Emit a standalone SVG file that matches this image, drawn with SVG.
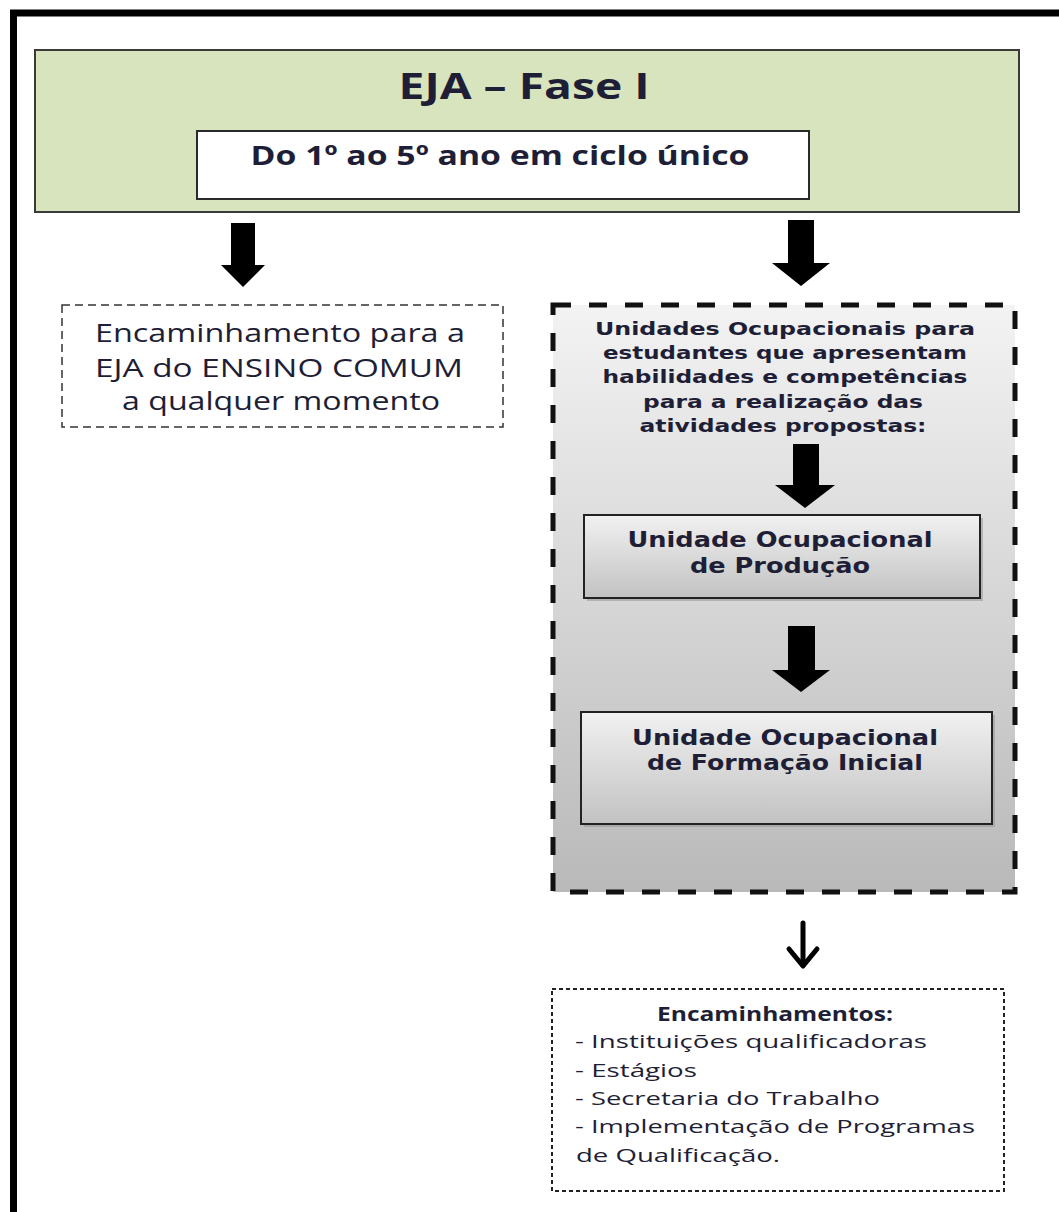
<svg xmlns="http://www.w3.org/2000/svg" width="1059" height="1212" viewBox="0 0 1059 1212">
<style>
.cal{font-family:"Open Sans","Liberation Sans",sans-serif;fill:#1e1e36}
.ver{font-family:"DejaVu Sans","Liberation Sans",sans-serif;font-weight:bold;fill:#1e1e36}
.arrow{fill:#000}
</style>
<defs>
<linearGradient id="gBig" x1="0" y1="0" x2="0" y2="1">
<stop offset="0" stop-color="#f3f3f3"/>
<stop offset="1" stop-color="#b9b9b9"/>
</linearGradient>
<linearGradient id="gBox" x1="0" y1="0" x2="0" y2="1">
<stop offset="0" stop-color="#f1f1f1"/>
<stop offset="1" stop-color="#c2c2c2"/>
</linearGradient>
</defs>
<rect width="1059" height="1212" fill="#fff"/>
<rect id="frame" x="13.5" y="13" width="1100" height="1300" fill="none" stroke="#000" stroke-width="7"/>

<g id="fase">
<rect x="35" y="50" width="984" height="162" fill="#d7e4bd" stroke="#3a3a3a" stroke-width="2"/>
<text class="cal" x="524" y="99" font-size="36" font-weight="bold" text-anchor="middle" textLength="251" lengthAdjust="spacingAndGlyphs">EJA – Fase I</text>
</g>
<g id="ciclo">
<rect x="197" y="131" width="612" height="68" fill="#fff" stroke="#2a2a2a" stroke-width="2"/>
<text class="cal" x="500" y="165" font-size="27" font-weight="bold" text-anchor="middle" textLength="499" lengthAdjust="spacingAndGlyphs">Do 1º ao 5º ano em ciclo único</text>
</g>

<g id="ensino-comum">
<rect x="62" y="305" width="441" height="122" fill="#fff" stroke="#333" stroke-width="1.5" stroke-dasharray="8 5"/>
<text class="cal" x="280" y="342" font-size="26" text-anchor="middle" textLength="370" lengthAdjust="spacingAndGlyphs">Encaminhamento para a</text>
<text class="cal" x="279" y="377" font-size="26" text-anchor="middle" textLength="368" lengthAdjust="spacingAndGlyphs">EJA do ENSINO COMUM</text>
<text class="cal" x="281" y="410" font-size="26" text-anchor="middle" textLength="318" lengthAdjust="spacingAndGlyphs">a qualquer momento</text>
</g>

<g id="unidades">
<rect x="553" y="305" width="462" height="587" fill="url(#gBig)" stroke="#111" stroke-width="5" stroke-dasharray="18 18"/>
<text class="ver" x="785" y="335" font-size="17" text-anchor="middle" textLength="380" lengthAdjust="spacingAndGlyphs">Unidades Ocupacionais para</text>
<text class="ver" x="785" y="359" font-size="17" text-anchor="middle" textLength="364" lengthAdjust="spacingAndGlyphs">estudantes que apresentam</text>
<text class="ver" x="785" y="383" font-size="17" text-anchor="middle" textLength="365" lengthAdjust="spacingAndGlyphs">habilidades e competências</text>
<text class="ver" x="783" y="408" font-size="17" text-anchor="middle" textLength="280" lengthAdjust="spacingAndGlyphs">para a realização das</text>
<text class="ver" x="783" y="432" font-size="17" text-anchor="middle" textLength="287" lengthAdjust="spacingAndGlyphs">atividades propostas:</text>
</g>

<g id="producao">
<rect x="587" y="518" width="396" height="83" fill="#9a9a9a" opacity="0.6"/>
<rect x="584" y="515" width="396" height="83" fill="url(#gBox)" stroke="#222" stroke-width="2"/>
<text class="ver" x="780" y="547" font-size="21" text-anchor="middle" textLength="305" lengthAdjust="spacingAndGlyphs">Unidade Ocupacional</text>
<text class="ver" x="780" y="573" font-size="21" text-anchor="middle" textLength="180" lengthAdjust="spacingAndGlyphs">de Produção</text>
</g>

<g id="formacao">
<rect x="584" y="715" width="411" height="112" fill="#9a9a9a" opacity="0.6"/>
<rect x="581" y="712" width="411" height="112" fill="url(#gBox)" stroke="#222" stroke-width="2"/>
<text class="ver" x="785" y="745" font-size="21" text-anchor="middle" textLength="306" lengthAdjust="spacingAndGlyphs">Unidade Ocupacional</text>
<text class="ver" x="785" y="770" font-size="21" text-anchor="middle" textLength="276" lengthAdjust="spacingAndGlyphs">de Formação Inicial</text>
</g>

<g id="encaminhamentos">
<rect x="552" y="989" width="452" height="202" fill="#fff" stroke="#222" stroke-width="2" stroke-dasharray="4 3"/>
<text class="cal" x="775" y="1021" font-size="19" font-weight="bold" text-anchor="middle" textLength="236" lengthAdjust="spacingAndGlyphs">Encaminhamentos:</text>
<text class="cal" x="575" y="1048" font-size="19" textLength="352" lengthAdjust="spacingAndGlyphs">- Instituições qualificadoras</text>
<text class="cal" x="575" y="1077" font-size="19" textLength="122" lengthAdjust="spacingAndGlyphs">- Estágios</text>
<text class="cal" x="575" y="1105" font-size="19" textLength="305" lengthAdjust="spacingAndGlyphs">- Secretaria do Trabalho</text>
<text class="cal" x="575" y="1133" font-size="19" textLength="400" lengthAdjust="spacingAndGlyphs">- Implementação de Programas</text>
<text class="cal" x="576" y="1162" font-size="19" textLength="204" lengthAdjust="spacingAndGlyphs">de Qualificação.</text>
</g>

<g id="connectors">
<polygon class="arrow" points="231,223 255,223 255,265 265,265 243,287 221,265 231,265"/>
<polygon class="arrow" points="788,220 814,220 814,263 830,263 801,286 772,263 788,263"/>
<polygon class="arrow" points="793,444 819,444 819,485 835,485 805,508 775,485 793,485"/>
<polygon class="arrow" points="788,626 815,626 815,670 830,670 801,692 772,670 788,670"/>
<g stroke="#000" stroke-width="5" fill="none" stroke-linecap="round" stroke-linejoin="round">
<line x1="803" y1="923" x2="803" y2="965"/>
<polyline points="789,949 803,966 817,949"/>
</g>
</g>
</svg>
